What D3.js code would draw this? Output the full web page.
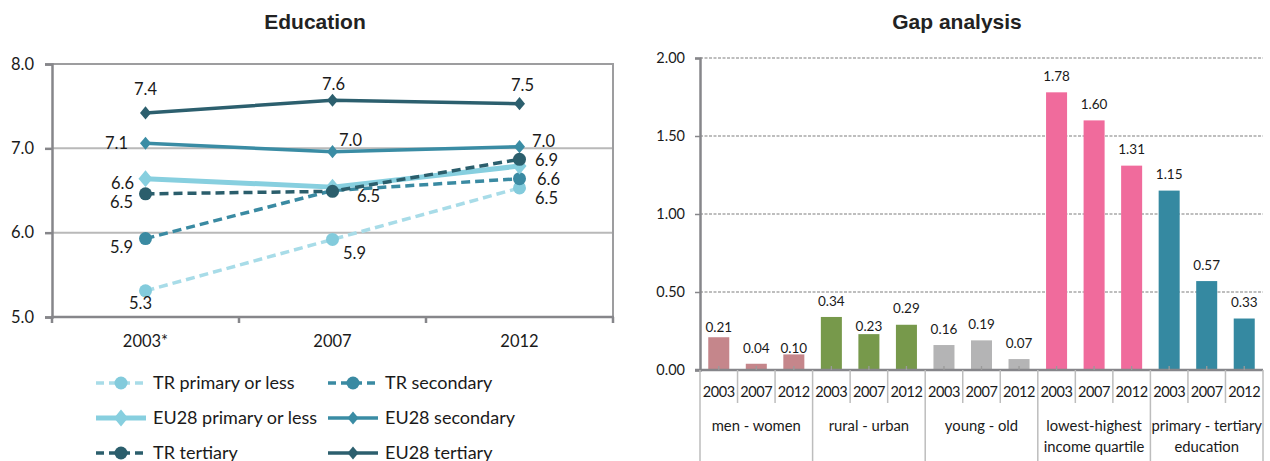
<!DOCTYPE html>
<html><head><meta charset="utf-8">
<script src="https://cdn.jsdelivr.net/npm/d3@7"></script>
<style>
html,body{margin:0;padding:0;background:#fff;}
svg{display:block;}
text{font-family:Lato,"Open Sans",sans-serif;fill:#1a1a1a;}
.title{font-family:"Liberation Sans",Arial,sans-serif;font-weight:bold;fill:#222;}
</style></head>
<body>
<svg id="chart" width="1270" height="461"></svg>
<script>
// ---------- Left chart data (Education) ----------
const eduYears = ["2003*", "2007", "2012"];
const eduYTicks = [5.0, 6.0, 7.0, 8.0];
const trPrimary   = [5.31, 5.92, 6.53];
const trSecondary = [5.93, 6.50, 6.64];
const eu28Primary = [6.64, 6.54, 6.79];
const eu28Secondary = [7.06, 6.96, 7.02];
const trTertiary  = [6.46, 6.49, 6.87];
const eu28Tertiary = [7.42, 7.57, 7.53];
const eduSeriesNames = ["TR primary or less", "TR secondary", "EU28 primary or less",
                        "EU28 secondary", "TR tertiary", "EU28 tertiary"];

// ---------- Right chart data (Gap analysis) ----------
const gapGroups = ["men - women", "rural - urban", "young - old",
                   "lowest-highest income quartile", "primary - tertiary education"];
const gapYears = ["2003", "2007", "2012"];
const gapMenWomen = [0.21, 0.04, 0.10];
const gapRuralUrban = [0.34, 0.23, 0.29];
const gapYoungOld = [0.16, 0.19, 0.07];
const gapIncome = [1.78, 1.60, 1.31];
const gapEducation = [1.15, 0.57, 0.33];
const gapYTicks = [0, 0.5, 1.0, 1.5, 2.0];

// ---------- styles / placement (not data) ----------
const eduStyles = [
  {color:"#a8dce8", mcolor:"#83cbdc", dash:"9,5", width:3.5, marker:"circle", msize:6.5},
  {color:"#3a8aa2", mcolor:"#3a8aa2", dash:"9,5", width:3.5, marker:"circle", msize:6.5},
  {color:"#87cfdf", mcolor:"#87cfdf", dash:null, width:5,   marker:"diamond", msize:7},
  {color:"#3a8ca4", mcolor:"#3a8ca4", dash:null, width:3.5, marker:"diamond", msize:5.5},
  {color:"#2b5e6c", mcolor:"#2b5e6c", dash:"9,5", width:3.5, marker:"circle", msize:6.5},
  {color:"#2c5f6e", mcolor:"#2c5f6e", dash:null, width:3.5, marker:"diamond", msize:5.5}
];
// label offsets [dx, dy] relative to point centre, null = no label
const eduLabelPos = [
  [[-5,12],[22,14],[27,10]],
  [[-24,8],null,[29,0]],
  [[-23,4],null,null],
  [[-29,0],[18,-12],[24,-6]],
  [[-24,8],[36,5],[27,1]],
  [[0,-24],[1,-16],[3,-19]]
];
const gapColors = ["#c5868b", "#77994b", "#b4b4b5", "#f06b9c", "#3589a1"];
const gapLabelLift = [[10,15,6],[16,7.5,16],[16,16,16],[16,16,16],[16,16,16]];

const svg = d3.select("#chart");

// ================= LEFT CHART =================
const eduSeries = [trPrimary, trSecondary, eu28Primary, eu28Secondary, trTertiary, eu28Tertiary];
const L = {x0:52, x1:613, y0:64, y1:317};
const xE = d3.scalePoint().domain(eduYears).range([L.x0, L.x1]).padding(0.5);
const yE = d3.scaleLinear().domain([5, 8]).range([L.y1, L.y0]);

svg.append("text").attr("class","title").attr("x",315).attr("y",29)
  .attr("text-anchor","middle").style("font-size","21px").text("Education");

// gridlines
svg.append("g").selectAll("line").data(eduYTicks.filter(d => d > 5 && d < 8)).join("line")
  .attr("x1", L.x0).attr("x2", L.x1).attr("y1", d => yE(d)).attr("y2", d => yE(d))
  .attr("stroke", "#b9b9b9").attr("stroke-width", 2);
// frame top/right
svg.append("path").attr("d", `M${L.x0},${L.y0}H${L.x1}V${L.y1}`)
  .attr("fill","none").attr("stroke","#9d9d9f").attr("stroke-width",2);

// y axis
const yAxisE = d3.axisLeft(yE).tickValues(eduYTicks).tickFormat(d3.format(".1f")).tickSize(7).tickPadding(11);
const gyE = svg.append("g").attr("transform", `translate(${L.x0},0)`).call(yAxisE);
gyE.select(".domain").attr("stroke","#86868a").attr("stroke-width",2.5);
gyE.selectAll(".tick line").attr("stroke","#86868a").attr("stroke-width",2.5);
gyE.selectAll(".tick text").style("font-size","16.5px").attr("fill","#1a1a1a")
  .style("font-family","Lato, sans-serif");

// x axis with boundaries ticks
const boundaries = d3.range(eduYears.length + 1).map(i => L.x0 + i * xE.step());
svg.append("line").attr("x1", L.x0 - 1).attr("x2", L.x1 + 1).attr("y1", L.y1).attr("y2", L.y1)
  .attr("stroke","#86868a").attr("stroke-width",2.5);
svg.append("g").selectAll("line").data(boundaries).join("line")
  .attr("x1", d => d).attr("x2", d => d).attr("y1", L.y1).attr("y2", L.y1 + 6)
  .attr("stroke","#86868a").attr("stroke-width",2.5);
svg.append("g").selectAll("text").data(eduYears).join("text")
  .attr("x", d => xE(d)).attr("y", 347).attr("text-anchor","middle")
  .style("font-size","16.5px").text(d => d);

// lines
const lineGen = d3.line().x((d, i) => xE(eduYears[i])).y(d => yE(d));
const diamond = s => `M0,${-s*1.2}L${s},0L0,${s*1.2}L${-s},0Z`;
eduSeries.forEach((vals, si) => {
  const st = eduStyles[si];
  svg.append("path").datum(vals).attr("d", lineGen).attr("fill","none")
    .attr("stroke", st.color).attr("stroke-width", st.width)
    .attr("stroke-dasharray", st.dash).attr("stroke-linejoin","round");
  const g = svg.append("g");
  vals.forEach((v, i) => {
    const cx = xE(eduYears[i]), cy = yE(v);
    if (st.marker === "circle") {
      g.append("circle").attr("cx", cx).attr("cy", cy).attr("r", st.msize).attr("fill", st.mcolor);
    } else {
      g.append("path").attr("d", diamond(st.msize)).attr("transform", `translate(${cx},${cy})`).attr("fill", st.mcolor);
    }
  });
});
// labels
eduSeries.forEach((vals, si) => {
  vals.forEach((v, i) => {
    const p = eduLabelPos[si][i];
    if (!p) return;
    svg.append("text").attr("x", xE(eduYears[i]) + p[0]).attr("y", yE(v) + p[1] + 6)
      .attr("text-anchor","middle").style("font-size","16.5px").text(v.toFixed(1));
  });
});

// legend
const legX = [96, 328], legTextGap = 7, legLen = 50, legY = [383, 418, 453];
eduSeriesNames.forEach((name, si) => {
  const st = eduStyles[si];
  const col = si % 2, row = Math.floor(si / 2);
  const x = legX[col], y = legY[row];
  const g = svg.append("g");
  g.append("line").attr("x1", x).attr("x2", x + legLen).attr("y1", y).attr("y2", y)
    .attr("stroke", st.color).attr("stroke-width", st.width)
    .attr("stroke-dasharray", st.dash ? "8,5" : null);
  if (st.marker === "circle") {
    g.append("circle").attr("cx", x + legLen/2).attr("cy", y).attr("r", st.msize).attr("fill", st.mcolor);
  } else {
    g.append("path").attr("d", diamond(st.msize)).attr("transform", `translate(${x + legLen/2},${y})`).attr("fill", st.mcolor);
  }
  g.append("text").attr("x", x + legLen + legTextGap).attr("y", y + 6)
    .style("font-size","18px").text(name);
});

// ================= RIGHT CHART =================
const gapSeries = [gapMenWomen, gapRuralUrban, gapYoungOld, gapIncome, gapEducation];
const R = {x0:700, x1:1263, y0:58, y1:370};
const slots = [];
gapGroups.forEach((g, gi) => gapYears.forEach((yr, yi) =>
  slots.push({key: g + "|" + yr, group: g, gi, yi, year: yr, value: gapSeries[gi][yi]})));
const xG = d3.scaleBand().domain(slots.map(d => d.key)).range([R.x0, R.x1])
  .paddingInner(0.44).paddingOuter(0.22);
const yG = d3.scaleLinear().domain([0, 2]).range([R.y1, R.y0]);

svg.append("text").attr("class","title").attr("x",957).attr("y",29)
  .attr("text-anchor","middle").style("font-size","21px").text("Gap analysis");

// gridlines
svg.append("g").selectAll("line").data(gapYTicks.filter(d => d > 0)).join("line")
  .attr("x1", R.x0).attr("x2", R.x1).attr("y1", d => yG(d)).attr("y2", d => yG(d))
  .attr("stroke", "#a9a9a9").attr("stroke-width", 1.3).attr("stroke-dasharray","3,1.5");

// bars
svg.append("g").selectAll("rect").data(slots).join("rect")
  .attr("x", d => xG(d.key)).attr("width", xG.bandwidth())
  .attr("y", d => yG(d.value)).attr("height", d => yG(0) - yG(d.value))
  .attr("fill", d => gapColors[d.gi]);

// value labels
svg.append("g").selectAll("text").data(slots).join("text")
  .attr("x", d => xG(d.key) + xG.bandwidth()/2)
  .attr("y", d => yG(d.value) - gapLabelLift[d.gi][d.yi] + 4.7)
  .attr("text-anchor","middle").style("font-size","13.5px")
  .text(d => d.value.toFixed(2));

// y axis
const yAxisG = d3.axisLeft(yG).tickValues(gapYTicks).tickFormat(d3.format(".2f")).tickSize(5).tickPadding(10);
const gyG = svg.append("g").attr("transform", `translate(${R.x0},0)`).call(yAxisG);
gyG.select(".domain").attr("stroke","#86868a").attr("stroke-width",2.5);
gyG.selectAll(".tick line").attr("stroke","#86868a").attr("stroke-width",1.5);
gyG.selectAll(".tick text").style("font-size","14.5px").attr("fill","#1a1a1a")
  .style("font-family","Lato, sans-serif");

// x axis baseline
svg.append("line").attr("x1", R.x0 - 5).attr("x2", R.x1).attr("y1", R.y1).attr("y2", R.y1)
  .attr("stroke","#86868a").attr("stroke-width",2.5);
// small ticks at bar centres
svg.append("g").selectAll("line").data(slots).join("line")
  .attr("x1", d => xG(d.key) + xG.bandwidth()/2).attr("x2", d => xG(d.key) + xG.bandwidth()/2)
  .attr("y1", R.y1 - 4).attr("y2", R.y1).attr("stroke","#9a9a9a").attr("stroke-width",1.3);
// year separators
const step = xG.step();
const yearBounds = d3.range(slots.length + 1).map(i => R.x0 + i * step);
svg.append("g").selectAll("line").data(yearBounds).join("line")
  .attr("x1", d => d).attr("x2", d => d).attr("y1", R.y1)
  .attr("y2", (d, i) => i % 3 === 0 ? 461 : 403)
  .attr("stroke", "#bdbdbd").attr("stroke-width", 1.5);
// year labels
svg.append("g").selectAll("text").data(slots).join("text")
  .attr("x", d => xG(d.key) + xG.bandwidth()/2).attr("y", 397)
  .attr("text-anchor","middle").style("font-size","14.5px").style("letter-spacing","-0.4px")
  .text(d => d.year);
// group labels
const groupLines = [["men - women"], ["rural - urban"], ["young - old"],
                    ["lowest-highest", "income quartile"], ["primary - tertiary", "education"]];
gapGroups.forEach((g, gi) => {
  const cx = R.x0 + (gi * 3 + 1.5) * step;
  groupLines[gi].forEach((ln, li) => {
    svg.append("text").attr("x", cx).attr("y", 431 + li * 21)
      .attr("text-anchor","middle").style("font-size","14.8px").text(ln);
  });
});
</script>
</body></html>
